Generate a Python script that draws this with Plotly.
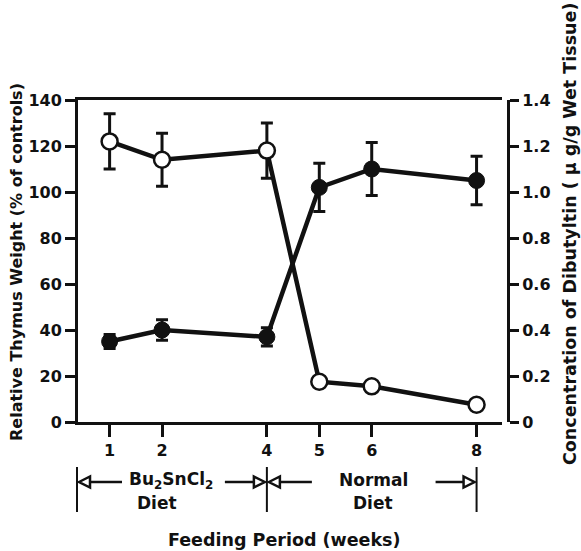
import plotly.graph_objects as go

# ---------------- data ----------------
weeks = [1, 2, 4, 5, 6, 8]
week_labels = ["1", "2", "4", "5", "6", "8"]

thymus_weight = [122, 114, 118, 17.5, 15.5, 7.5]          # % of controls (open circles, left axis)
thymus_err = [12, 11.5, 12, 0, 0, 0]

dbt_conc = [0.35, 0.40, 0.37, 1.02, 1.10, 1.05]           # ug/g wet tissue (filled circles, right axis)
dbt_err = [0.03, 0.045, 0.04, 0.105, 0.115, 0.105]

left_ticks = [0, 20, 40, 60, 80, 100, 120, 140]
right_ticks = [0, 0.2, 0.4, 0.6, 0.8, 1.0, 1.2, 1.4]
right_ticktext = ["0", "0.2", "0.4", "0.6", "0.8", "1.0", "1.2", "1.4"]

# ---------------- layout geometry ----------------
W, H = 581, 551
ML, MR, MT, MB = 78, 73, 100, 129
PW = W - ML - MR
PH = H - MT - MB
X_RANGE = [0.397, 8.485]
X_DOMAIN_END = 424 / PW

FONT = "DejaVu Sans, Liberation Sans, Arial, sans-serif"
BLACK = "#111111"


def px_x(px):
    return (px - ML) / PW


def px_y(py):
    return (H - MB - py) / PH


def week_px(w):
    return ML + (w - X_RANGE[0]) / (X_RANGE[1] - X_RANGE[0]) * 424


fig = go.Figure()

fig.add_trace(go.Scatter(
    x=weeks, y=dbt_conc, yaxis="y2", mode="lines+markers",
    line=dict(color=BLACK, width=4.5),
    marker=dict(symbol="circle", size=16, color=BLACK, line=dict(color=BLACK, width=1)),
    error_y=dict(type="data", array=dbt_err, visible=True, color=BLACK, thickness=3, width=6),
    showlegend=False,
))

fig.add_trace(go.Scatter(
    x=weeks, y=thymus_weight, mode="lines+markers",
    line=dict(color=BLACK, width=4.5),
    marker=dict(symbol="circle", size=16, color="white", line=dict(color=BLACK, width=2.5)),
    error_y=dict(type="data", array=thymus_err, visible=True, color=BLACK, thickness=3, width=6),
    showlegend=False,
))

tickfont = dict(family=FONT, size=16, color=BLACK, weight="bold")

fig.update_layout(
    width=W, height=H,
    margin=dict(l=ML, r=MR, t=MT, b=MB, pad=0),
    paper_bgcolor="white", plot_bgcolor="white",
    xaxis=dict(
        domain=[0, X_DOMAIN_END], range=X_RANGE,
        tickvals=weeks, ticktext=week_labels,
        showline=True, linewidth=3, linecolor=BLACK, mirror=True,
        ticks="outside", ticklen=12, tickwidth=2.5, tickcolor=BLACK,
        showgrid=False, zeroline=False, tickfont=tickfont,
    ),
    yaxis=dict(
        range=[0, 140], tickvals=left_ticks,
        showline=True, linewidth=3, linecolor=BLACK,
        ticks="outside", ticklen=10, tickwidth=2.5, tickcolor=BLACK,
        showgrid=False, zeroline=False, tickfont=tickfont,
    ),
    yaxis2=dict(
        range=[0, 1.4], tickvals=right_ticks, ticktext=right_ticktext,
        overlaying="y", side="right", anchor="free", position=1.0,
        showline=True, linewidth=3, linecolor=BLACK,
        ticks="outside", ticklen=9, tickwidth=2.5, tickcolor=BLACK,
        showgrid=False, zeroline=False, tickfont=tickfont,
    ),
)

# ---------------- axis titles & period labels ----------------
def tf(size):
    return dict(family=FONT, size=size, color=BLACK, weight="bold")


anns = [
    dict(text="Relative Thymus Weight (% of controls)", x=px_x(16), y=px_y(262),
         textangle=-90, font=tf(16)),
    dict(text="Concentration of Dibutyltin ( \u03bc g/g Wet Tissue)", x=px_x(570), y=px_y(234),
         textangle=-90, font=tf(17.5)),
    dict(text="Feeding Period (weeks)", x=px_x(284), y=px_y(540), font=tf(17.5)),
    dict(text="Bu<sub>2</sub>SnCl<sub>2</sub>", x=px_x(171), y=px_y(480), font=tf(17)),
    dict(text="Diet", x=px_x(157), y=px_y(503), font=tf(17)),
    dict(text="Normal", x=px_x(373), y=px_y(480), font=tf(17)),
    dict(text="Diet", x=px_x(373), y=px_y(503), font=tf(17)),
]
for a in anns:
    a.update(xref="paper", yref="paper", showarrow=False, xanchor="center", yanchor="middle")
    fig.add_annotation(**a)

# ---------------- period brackets ----------------
shapes = []
bar_top, bar_bot, arr_y = 467, 512, 482
x_start = week_px(X_RANGE[0]) - 1
x_mid = week_px(4)
x_end = week_px(8)
for xb in (x_start, x_mid, x_end):
    shapes.append(dict(type="line", x0=px_x(xb), x1=px_x(xb), y0=px_y(bar_top), y1=px_y(bar_bot),
                       line=dict(color=BLACK, width=2)))


def arrow(tip, tail, direction):
    # direction: -1 pointing left, +1 pointing right; open triangle head
    base = tip - direction * 11
    shapes.append(dict(type="line", x0=px_x(tail), x1=px_x(base), y0=px_y(arr_y), y1=px_y(arr_y),
                       line=dict(color=BLACK, width=2.5)))
    path = "M {} {} L {} {} L {} {} Z".format(
        px_x(tip), px_y(arr_y), px_x(base), px_y(arr_y - 5.5), px_x(base), px_y(arr_y + 5.5))
    shapes.append(dict(type="path", path=path, fillcolor="white", line=dict(color=BLACK, width=2.5)))


arrow(x_start + 2, x_start + 45, -1)
arrow(x_mid - 2, x_mid - 42, 1)
arrow(x_mid + 2, x_mid + 45, -1)
arrow(x_end - 2, x_end - 41, 1)

for s in shapes:
    s.update(xref="paper", yref="paper", layer="above")
fig.update_layout(shapes=shapes)

fig.write_html("out.html")
